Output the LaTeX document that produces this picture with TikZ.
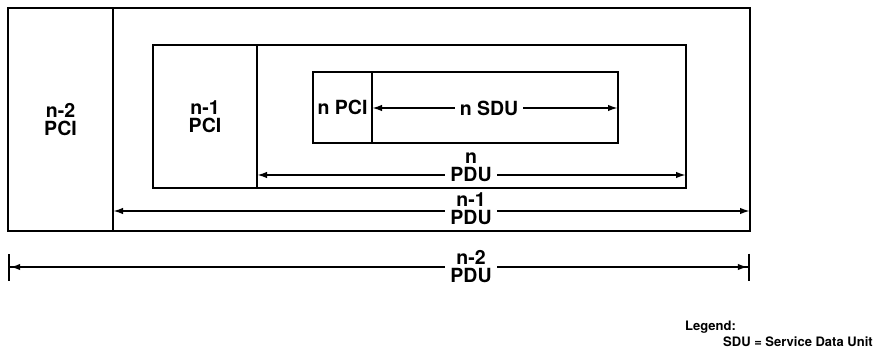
\documentclass[tikz,border=0pt]{standalone}
\usepackage{fontspec}
\setmainfont{TeX Gyre Heros}
\usetikzlibrary{arrows.meta}
\tikzset{
  cell/.style={draw, line width=2pt, inner sep=0pt, outer sep=0pt, anchor=north west, align=center},
  outercell/.style={cell, line width=2.8pt},
  dim/.style={line width=1.8pt, {Latex[length=10pt,width=6.5pt]}-{Latex[length=10pt,width=6.5pt]}},
  bardim/.style={line width=1.8pt, {Bar[width=27pt,line width=2.2pt]Latex[length=10pt,width=6.5pt]}-{Latex[length=10pt,width=6.5pt]Bar[width=27pt,line width=2.2pt]}},
  lbl/.style={fill=white, inner xsep=5pt, inner ysep=0pt, align=center, anchor=south},
  legend/.style={font=\fontsize{13}{14}\selectfont\bfseries, inner sep=0pt, anchor=base west}
}
\newcommand{\pdufont}{\fontsize{19.5}{18}\selectfont\bfseries}

\begin{document}
\begin{tikzpicture}[x=1pt, y=-1pt, font=\pdufont]
\useasboundingbox (0,0) rectangle (877,355);
% n-2 layer
\node[outercell, minimum width=105pt, minimum height=223pt] (n2pci) at (8,8) {n-2\\PCI};
\node[outercell, minimum width=637pt, minimum height=223pt] (n2sdu) at (113,8) {};
% n-1 layer
\node[cell, minimum width=104pt, minimum height=143pt] (n1pci) at (153,45) {n-1\\PCI};
\node[cell, minimum width=429pt, minimum height=143pt] (n1sdu) at (257,45) {};
% n layer
\node[cell, minimum width=59pt, minimum height=71pt] (npci) at (313,72) {n PCI};
\node[cell, minimum width=246pt, minimum height=71pt] (nsdu) at (372,72) {};

% dimension lines
\coordinate (sdurow) at (489,108);
\draw[dim] (npci.east |- sdurow) -- (nsdu.east |- sdurow);
\node[fill=white, inner xsep=5pt, inner ysep=1pt] (sdulbl) at (sdurow) {n SDU};

\coordinate (npdurow) at (471,175);
\draw[dim] (n1pci.east |- npdurow) -- (n1sdu.east |- npdurow);
\node[lbl] (npdu) at (471,182) {n\\PDU};

\coordinate (n1pdurow) at (471,211);
\draw[dim] (n2pci.east |- n1pdurow) -- (n2sdu.east |- n1pdurow);
\node[lbl] (n1pdu) at (471,225) {n-1\\PDU};

\coordinate (n2pdurow) at (471,267);
\draw[bardim] (n2pci.west |- n2pdurow) -- (n2sdu.east |- n2pdurow);
\node[lbl] (n2pdu) at (471,283) {n-2\\PDU};

% legend
\node[legend] (leg) at (685,330) {Legend:};
\node[legend] (legsdu) at (723,346) {SDU = Service Data Unit};
\end{tikzpicture}
\end{document}
